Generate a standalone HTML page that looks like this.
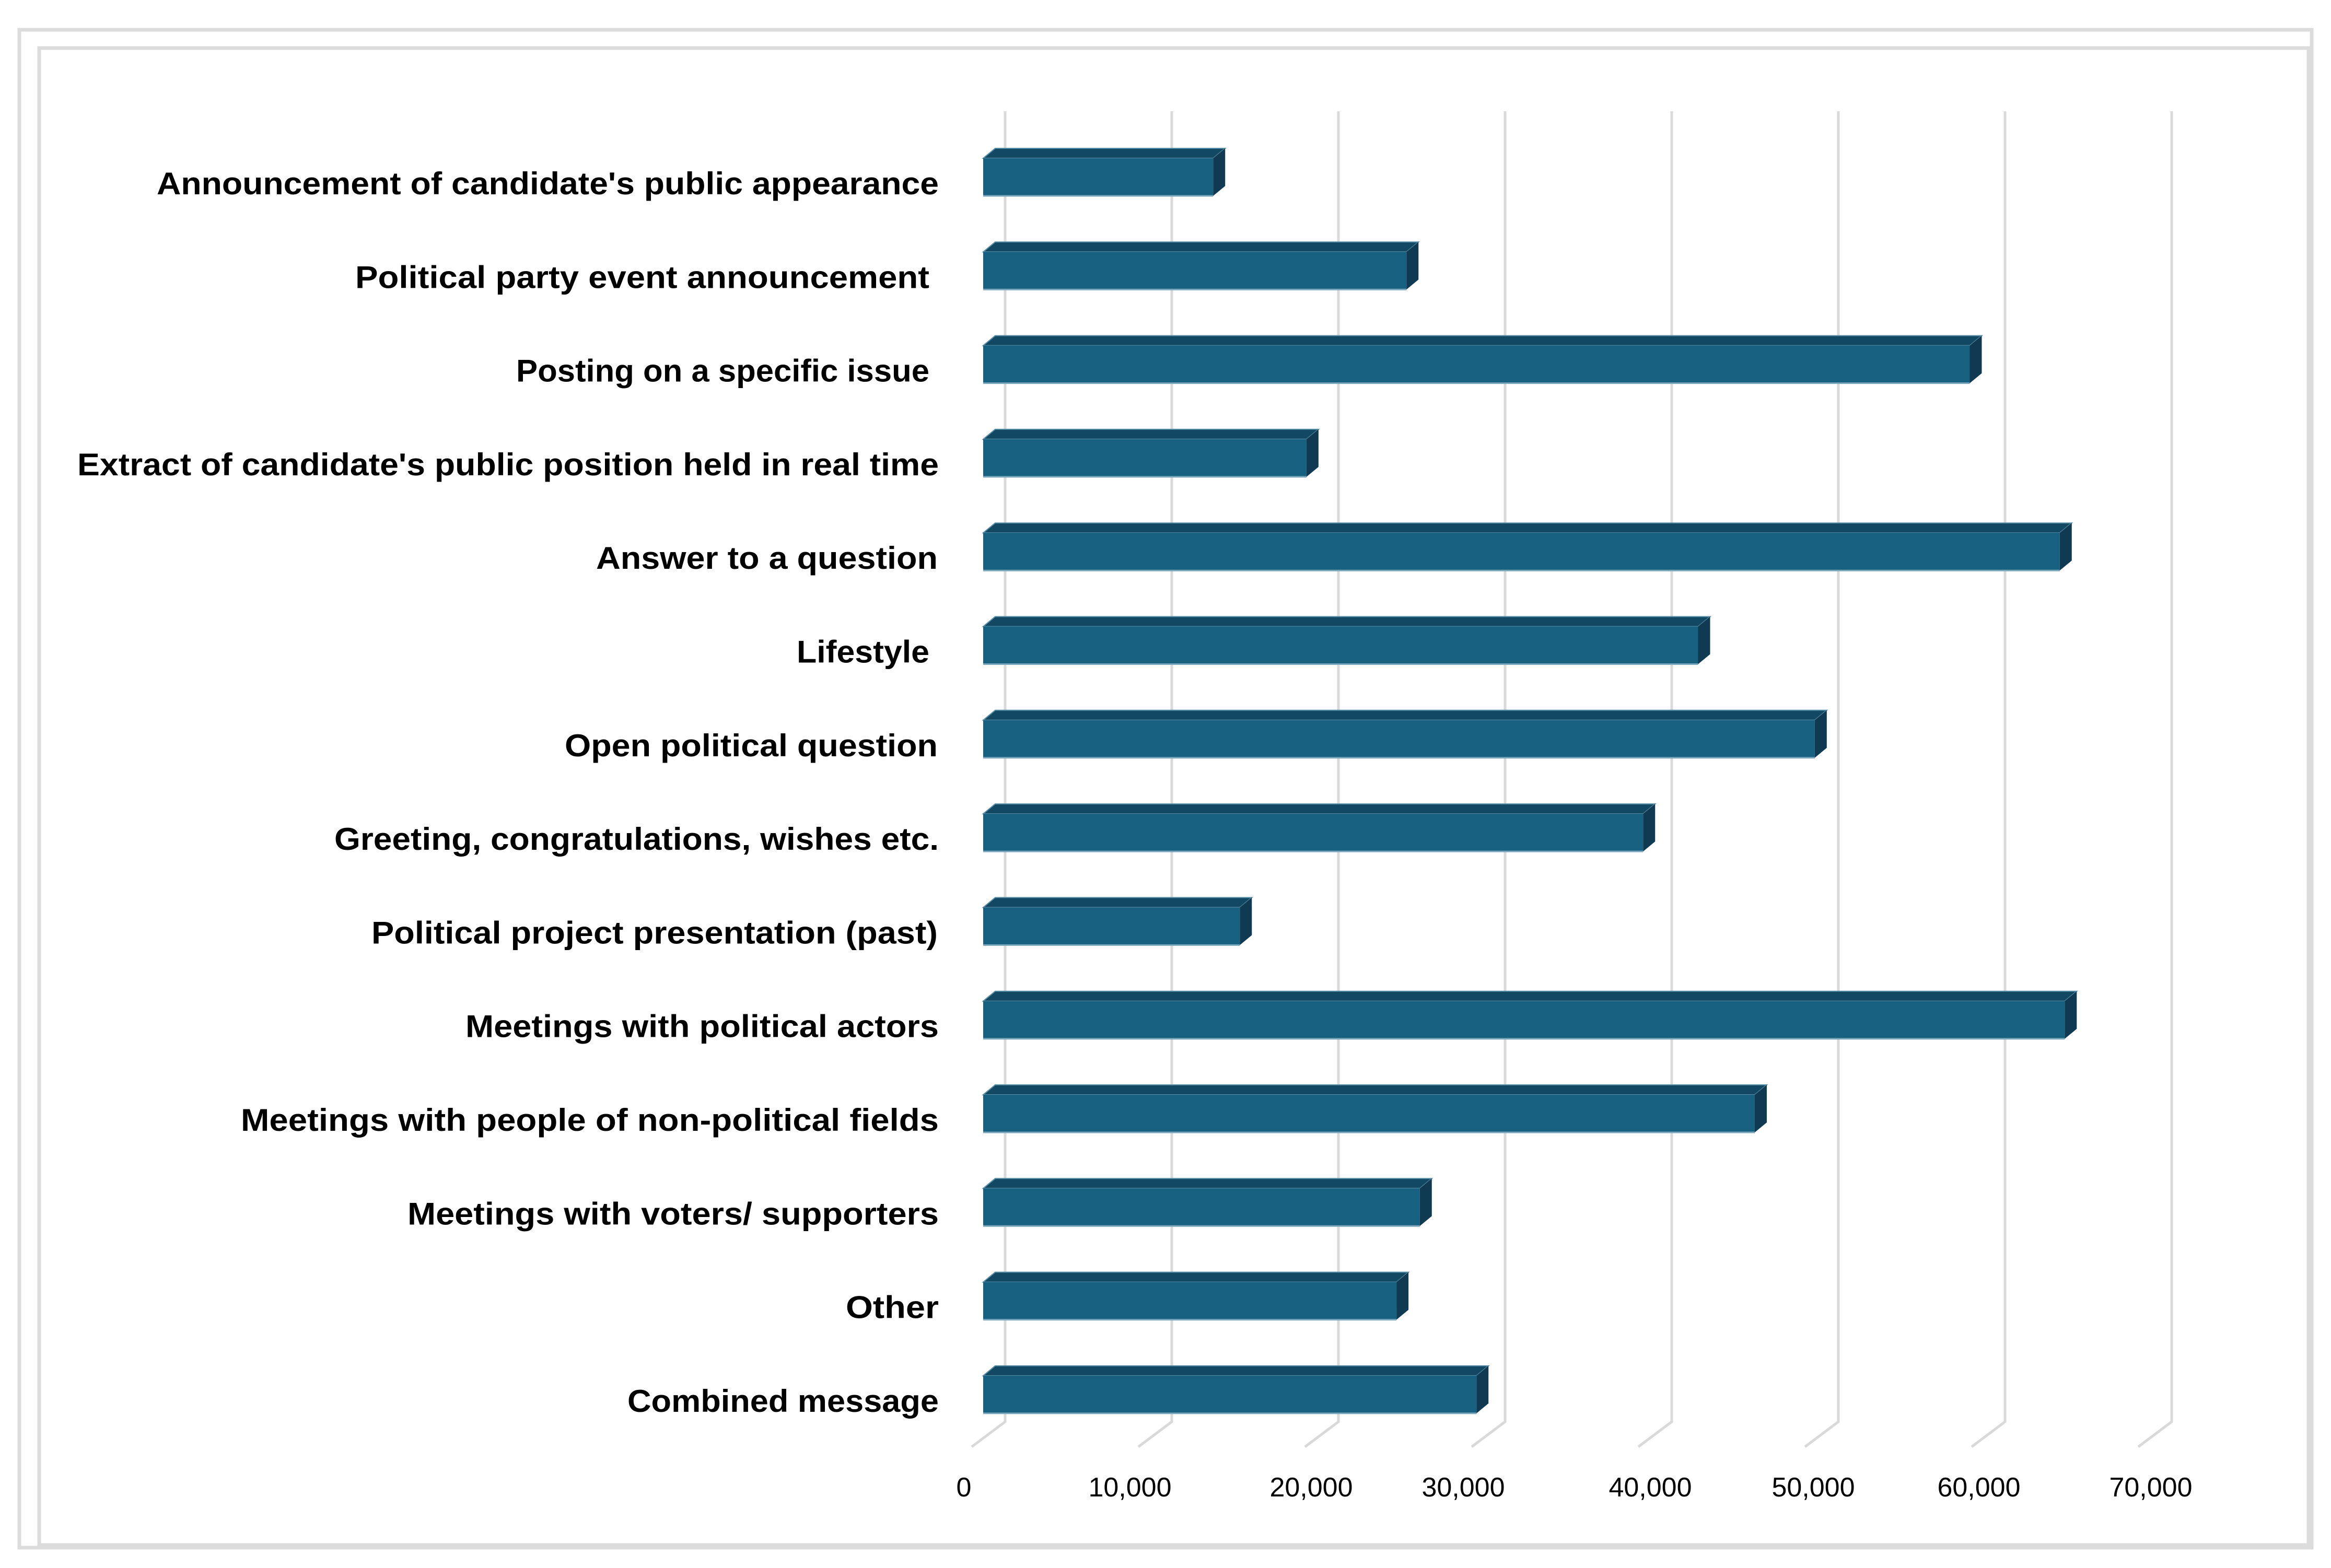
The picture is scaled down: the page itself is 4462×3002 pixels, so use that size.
<!DOCTYPE html>
<html><head><meta charset="utf-8"><style>
html,body{margin:0;padding:0;background:#fff;}
svg{display:block;}
text{font-family:"Liberation Sans",sans-serif;}
</style></head><body>
<svg id="chart" width="4462" height="3002" viewBox="0 0 4462 3002" xmlns="http://www.w3.org/2000/svg">
<rect x="37" y="57" width="4388" height="2906" fill="none" stroke="#dcdcdc" stroke-width="7"/>
<rect x="75" y="92" width="4344" height="2866" fill="#fff" stroke="#dcdcdc" stroke-width="7"/>
<g id="grid"></g>
<g id="bars"></g>
<g id="labels"></g>
<g id="ticks"></g>
</svg>
<script>
const categories = ["Announcement of candidate's public appearance","Political party event announcement","Posting on a specific issue","Extract of candidate's public position held in real time","Answer to a question","Lifestyle","Open political question","Greeting, congratulations, wishes etc.","Political project presentation (past)","Meetings with political actors","Meetings with people of non-political fields","Meetings with voters/ supporters","Other","Combined message"];
const values = [13800,25400,59200,19400,64600,42900,49900,39600,15400,64900,46300,26200,24800,29600];
const tickValues = [0,10000,20000,30000,40000,50000,60000,70000];
const tickLabels = ["0","10,000","20,000","30,000","40,000","50,000","60,000","70,000"];
const tickNudge = [-5,-6,22,-6,33,26,24,34];
const labelLeft = [300,680,988,148,1141,1525,1081,640,711,891,461,780,1619,1201];
const labelRight = [1797,1779,1779,1797,1795,1779,1795,1797,1795,1797,1797,1797,1797,1797];

const NS = "http://www.w3.org/2000/svg";
const FRONT0 = 1882, BACK0 = 1924, PX = 319/10000;
const DX = 23, DY = 19, FH = 72;
const ROW0 = 284, STEP = 179.3;
function xFront(v){return FRONT0 + v*PX;}
function xBack(v){return BACK0 + v*PX;}
function rowTop(i){return ROW0 + i*STEP;}
function mk(tag, attrs, parent){const e=document.createElementNS(NS,tag);for(const k in attrs)e.setAttribute(k,attrs[k]);parent.appendChild(e);return e;}

const grid=document.getElementById('grid');
tickValues.forEach((v,k)=>{
  const x=xBack(v);
  const p=mk('polyline',{points:`${x},213 ${x},2722 ${x-64},2770`,fill:'none',stroke:'#d9d9d9','stroke-width':5},grid);
  
  
});
const ticks=document.getElementById('ticks');
tickValues.forEach((v,k)=>{
  const t=mk('text',{x:xBack(v)-74+tickNudge[k],y:2865,'font-size':52,'text-anchor':'middle',fill:'#000'},ticks);
  t.textContent=tickLabels[k];
  
  
});
const bars=document.getElementById('bars');
const labels=document.getElementById('labels');
values.forEach((v,i)=>{
  const top=rowTop(i), x0=FRONT0, xv=xFront(v), ft=top+DY;
  const g=mk('g',{},bars);
  
  
  mk('polygon',{points:`${x0},${ft} ${x0+DX},${top} ${xv+DX},${top} ${xv},${ft}`,fill:'#124862',stroke:'#5b8fa8','stroke-width':2},g);
  mk('rect',{x:x0,y:ft,width:xv-x0,height:FH,fill:'#17607f'},g);
  mk('line',{x1:x0,y1:ft+FH,x2:xv,y2:ft+FH,stroke:'#7aa6bc','stroke-width':3},g);
  mk('polygon',{points:`${xv},${ft} ${xv+DX},${top} ${xv+DX},${top+FH} ${xv},${ft+FH}`,fill:'#0f3a51'},g);
  const t=mk('text',{x:labelLeft[i],y:top+88,'font-size':60,'font-weight':'bold',fill:'#000',textLength:labelRight[i]-labelLeft[i],lengthAdjust:'spacingAndGlyphs'},labels);
  t.textContent=categories[i];
  
  
});
</script>
</body></html>
